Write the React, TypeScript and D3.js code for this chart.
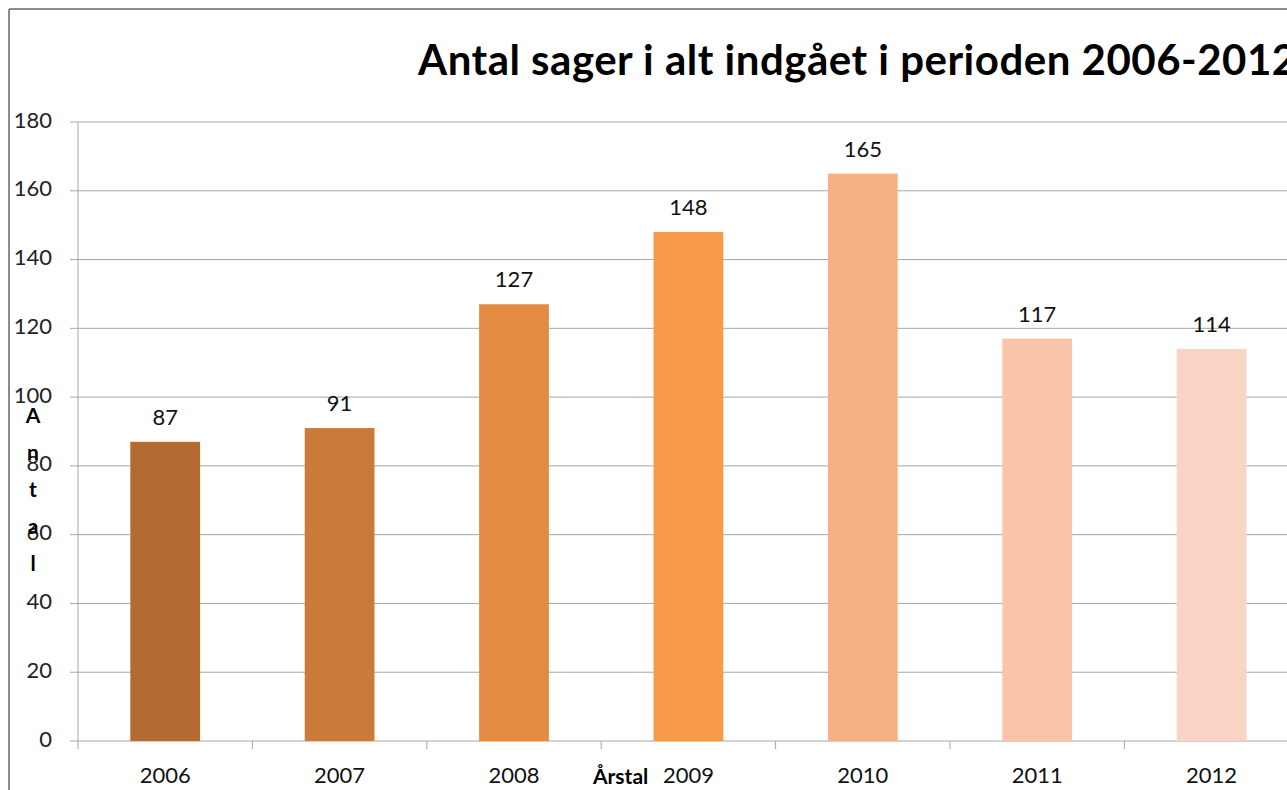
import React, { useEffect } from 'react';
import * as d3 from 'd3';

const YEARS = ['2006', '2007', '2008', '2009', '2010', '2011', '2012'];
const CASES = [87, 91, 127, 148, 165, 117, 114];
const BAR_COLORS = ['#b36b33', '#cb7a3a', '#e38b42', '#f79a4a', '#f7af84', '#f9c4a9', '#f9d4c4'];
const Y_TICKS = [0, 20, 40, 60, 80, 100, 120, 140, 160, 180];

const TITLE = 'Antal sager i alt indgået i perioden 2006-2012';
const FONT = 'Lato, "Open Sans", sans-serif';

export default function App() {
  useEffect(() => {
    document.body.style.margin = '0';
  }, []);

  const W = 1287, H = 790;
  const left = 78, top = 122, bottom = 741;
  const right = left + 7 * 174.4;

  const x = d3.scaleBand<string>().domain(YEARS).range([left, right]).paddingInner(0.6).paddingOuter(0.3);
  const y = d3.scaleLinear().domain([0, 180]).range([bottom, top]);
  const step = x.step();
  const grid = '#a6a6a6';

  return (
    <svg width={W} height={H} style={{ display: 'block', background: '#fff', fontFamily: FONT }}>
      {/* chart frame, cut off on the right and bottom */}
      <line x1={9} x2={W} y1={9} y2={9} stroke="#8c8c8c" strokeWidth={2} />
      <line x1={9} x2={9} y1={9} y2={H} stroke="#8c8c8c" strokeWidth={2} />

      <text x={418} y={75} fontSize={42} fontWeight="bold" fill="#000" letterSpacing={0.5}>{TITLE}</text>

      {/* gridlines + y ticks */}
      {Y_TICKS.map(t => (
        <g key={t}>
          <line x1={left - 8} x2={W} y1={y(t)} y2={y(t)} stroke={grid} strokeWidth={1} />
          <text x={52} y={y(t)} textAnchor="end" dominantBaseline="middle" fontSize={22} fill="#222">{t}</text>
        </g>
      ))}
      <line x1={left} x2={left} y1={top} y2={bottom} stroke={grid} strokeWidth={1} />

      {/* x ticks between categories */}
      {d3.range(YEARS.length + 1).map(i => (
        <line key={i} x1={left + i * step} x2={left + i * step} y1={bottom} y2={bottom + 8} stroke={grid} strokeWidth={1} />
      ))}

      {YEARS.map((yr, i) => {
        const cx = (x(yr) ?? 0) + x.bandwidth() / 2;
        return (
          <g key={yr}>
            <rect x={x(yr)} y={y(CASES[i])} width={x.bandwidth()} height={bottom - y(CASES[i])} fill={BAR_COLORS[i]} />
            <text x={cx} y={y(CASES[i]) - 17} textAnchor="middle" fontSize={22} fill="#111">{CASES[i]}</text>
            <text x={cx} y={783} textAnchor="middle" fontSize={22} fill="#111">{yr}</text>
          </g>
        );
      })}

      {/* axis titles */}
      <text x={593} y={784} fontSize={21} fontWeight="bold" fill="#000">Årstal</text>
      {'Antal'.split('').map((ch, i) => (
        <text key={i} x={33} y={418 + i * 37} textAnchor="middle" dominantBaseline="middle" fontSize={21} fontWeight="bold" fill="#000">{ch}</text>
      ))}
    </svg>
  );
}
